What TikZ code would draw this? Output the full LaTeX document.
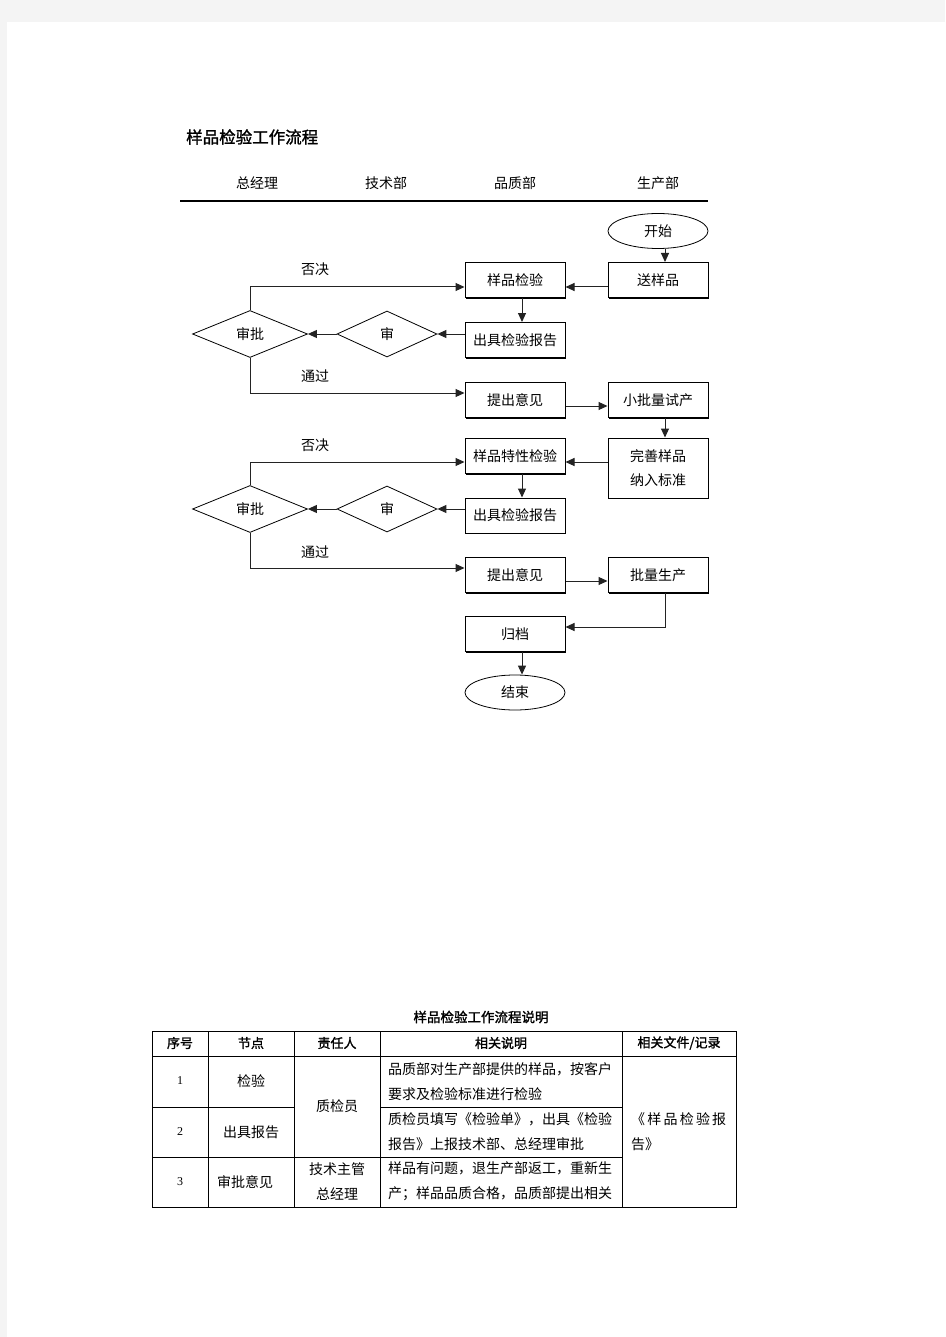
\documentclass[tikz,border=0pt]{standalone}
\usepackage{fontspec}
\setmainfont{Noto Sans CJK SC}
\newfontfamily\cjkbold{Noto Sans CJK SC}[FakeBold=1.5]
\newfontfamily\numfont{Liberation Serif}
\usepackage{tikz}
\usetikzlibrary{shapes.geometric,positioning,arrows.meta,shadows}
\definecolor{pagegray}{RGB}{244,244,244}
\definecolor{linegray}{RGB}{35,35,35}

\begin{document}
\begin{tikzpicture}[x=1pt, y=-1pt,
    box/.style={rectangle, draw, line width=1pt, fill=white, minimum width=100pt, minimum height=35pt, inner sep=0pt, font=\fontsize{14}{24}\selectfont, drop shadow={shadow xshift=1.3pt, shadow yshift=-1.3pt, fill=black, opacity=1}},
    terminal/.style={ellipse, draw, line width=0.8pt, fill=white, minimum width=100pt, minimum height=35pt, inner sep=0pt, font=\fontsize{14}{24}\selectfont},
    decision/.style={diamond, draw, line width=0.8pt, fill=white, minimum width=100pt, minimum height=46pt, inner sep=0pt, font=\fontsize{14}{24}\selectfont},
    bigdecision/.style={decision, minimum width=115pt, minimum height=47pt},
    lbl/.style={inner sep=0pt, font=\fontsize{14}{24}\selectfont},
    arrow/.style={-{Triangle[length=9pt,width=8pt]}, linegray, line width=1pt},
    cell/.style={inner sep=0pt, font=\fontsize{14}{25}\selectfont},
    headcell/.style={inner sep=0pt, font=\cjkbold\fontsize{13}{16}\selectfont},
    numcell/.style={inner sep=0pt, font=\numfont\fontsize{12}{14}\selectfont},
    grid/.style={line width=0.8pt}
]
\useasboundingbox (0,0) rectangle (945,1337);
\fill[pagegray] (0,0) rectangle (945,1337);
\fill[white] (7,22) rectangle (945,1337);

% title and department header
\node[lbl, font=\cjkbold\fontsize{16.5}{20}\selectfont, anchor=west] (title) at (186,137) {样品检验工作流程};
\node[lbl] (gm) at (257,183) {总经理};
\node[lbl] (tech) at (386,183) {技术部};
\node[lbl] (qa) at (515,183) {品质部};
\node[lbl] (prod) at (658,183) {生产部};
\draw[line width=2.5pt] (180,201) -- (708,201);

% first check
\node[terminal] (start) at (658,231) {开始};
\node[box] (send) at (658,280) {送样品};
\node[box] (check) at (515,280) {样品检验};
\node[box] (report1) at (515,340) {出具检验报告};
\node[decision] (review1) at (387,334) {审};
\node[bigdecision] (approve1) at (250,334) {审批};
\node[box] (opinion1) at (515,400) {提出意见};
\node[box] (trial) at (658,400) {小批量试产};
\node[lbl] (reject1) at (315,269) {否决};
\node[lbl] (pass1) at (315,376) {通过};

\draw[arrow] ([xshift=7pt]start.south) -- ([xshift=7pt]send.north);
\draw[arrow] ([yshift=-7pt]send.west) -- ([yshift=-7pt]send.west -| check.east);
\draw[arrow] ([xshift=7pt]check.south) -- ([xshift=7pt]report1.north);
\draw[arrow] (review1.east -| report1.west) -- (review1.east);
\draw[arrow] (review1.west) -- (approve1.east);
\draw[arrow] (approve1.north) |- ([yshift=-7pt]check.west);
\draw[arrow] (approve1.south) |- ([yshift=7pt]opinion1.west);
\draw[arrow] ([yshift=-6pt]opinion1.east) -- ([yshift=-6pt]opinion1.east -| trial.west);

% second check
\node[box] (charcheck) at (515,456) {样品特性检验};
\node[box, minimum height=60pt, align=center] (improve) at (658,468) {完善样品\\纳入标准};
\node[box] (report2) at (515,515.5) {出具检验报告};
\node[decision] (review2) at (387,509) {审};
\node[bigdecision] (approve2) at (250,509) {审批};
\node[box] (opinion2) at (515,575) {提出意见};
\node[box] (mass) at (658,575) {批量生产};
\node[box] (archive) at (515,634) {归档};
\node[terminal] (stop) at (515,692.5) {结束};
\node[lbl] (reject2) at (315,445) {否决};
\node[lbl] (pass2) at (315,552) {通过};

\draw[arrow] ([xshift=7pt]trial.south) -- ([xshift=7pt]improve.north);
\draw[arrow] ([yshift=-6pt]charcheck.east -| improve.west) -- ([yshift=-6pt]charcheck.east);
\draw[arrow] ([xshift=7pt]charcheck.south) -- ([xshift=7pt]report2.north);
\draw[arrow] (review2.east -| report2.west) -- (review2.east);
\draw[arrow] (review2.west) -- (approve2.east);
\draw[arrow] (approve2.north) |- ([yshift=-6pt]charcheck.west);
\draw[arrow] (approve2.south) |- ([yshift=7pt]opinion2.west);
\draw[arrow] ([yshift=-6pt]opinion2.east) -- ([yshift=-6pt]opinion2.east -| mass.west);
\draw[arrow] ([xshift=7pt]mass.south) |- ([yshift=7pt]archive.east);
\draw[arrow] ([xshift=7pt]archive.south) -- ([xshift=7pt]stop.north);

% description table
\node[headcell, font=\cjkbold\fontsize{13.5}{16}\selectfont] (tabtitle) at (481,1017) {样品检验工作流程说明};
\draw[grid] (152,1031) rectangle (736,1207);
\foreach \cx in {208,294,380,622}
    \draw[grid] (\cx,1031) -- (\cx,1207);
\draw[grid] (152,1056) -- (736,1056);
\draw[grid] (152,1107) -- (294,1107) (380,1107) -- (622,1107);
\draw[grid] (152,1157) -- (622,1157);

\node[headcell] (hno) at (180,1043) {序号};
\node[headcell] (hstep) at (251,1043) {节点};
\node[headcell] (hwho) at (337,1043) {责任人};
\node[headcell] (hdesc) at (501,1043) {相关说明};
\node[headcell] (hdoc) at (679,1043) {相关文件/记录};

\node[numcell] (no1) at (180,1081) {1};
\node[numcell] (no2) at (180,1132) {2};
\node[numcell] (no3) at (180,1182) {3};
\node[cell] (step1) at (251,1081) {检验};
\node[cell] (step2) at (251,1132) {出具报告};
\node[cell] (step3) at (245,1182) {审批意见};
\node[cell] (who12) at (337,1106) {质检员};
\node[cell, align=center] (who3) at (337,1181.5) {技术主管\\总经理};
\node[cell, anchor=west, align=left] (desc1) at (388,1081.5) {品质部对生产部提供的样品，按客户\\要求及检验标准进行检验};
\node[cell, anchor=west, align=left] (desc2) at (388,1131.5) {质检员填写《检验单》，出具《检验\\报告》上报技术部、总经理审批};
\node[cell, anchor=west, align=left] (desc3) at (388,1181.5) {样品有问题，退生产部返工，重新生\\产；样品品质合格，品质部提出相关};
\node[cell, anchor=west, align=left] (doc) at (631,1131.5) {\makebox[95pt][s]{《\hfill 样\hfill 品\hfill 检\hfill 验\hfill 报}\\告》};
\end{tikzpicture}
\end{document}
